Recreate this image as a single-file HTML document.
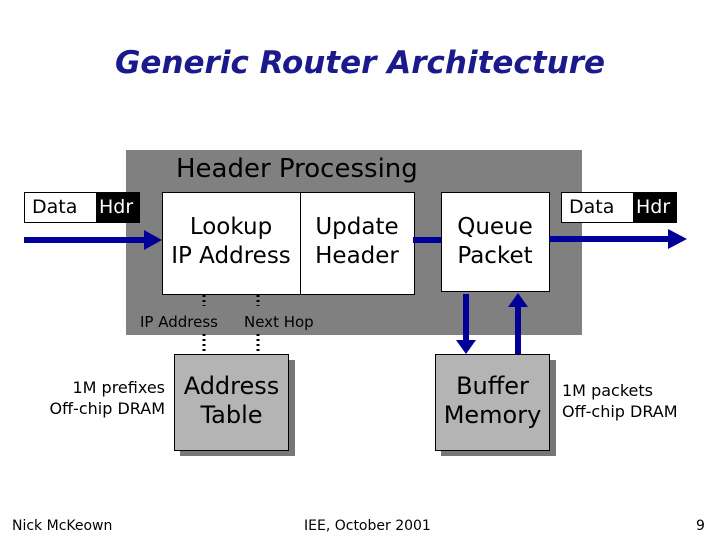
<!DOCTYPE html>
<html><head><style>
body{margin:0;width:720px;height:540px;background:#fff;overflow:hidden;position:relative;font-family:"Comic Sans MS","DejaVu Sans","Liberation Sans",sans-serif;}
.a{position:absolute;}
</style></head><body>
<div class="a" style="left:0;top:45px;width:720px;text-align:center;font-size:31px;color:#1a1a8c;font-style:italic;font-weight:bold;">Generic Router Architecture</div>
<div class="a" style="left:126px;top:150px;width:456px;height:185px;background:#808080;"></div>
<div class="a" style="left:176px;top:154px;font-size:26px;">Header Processing</div>
<div class="a" style="left:24px;top:192px;width:114px;height:29px;border:1px solid #000;background:#fff;"></div>
<div class="a" style="left:96px;top:192px;width:43px;height:31px;background:#000;"></div>
<div class="a" style="left:32px;top:196px;font-size:19px;">Data</div>
<div class="a" style="left:99px;top:196px;font-size:19px;color:#fff;">Hdr</div>
<div class="a" style="left:561px;top:192px;width:114px;height:29px;border:1px solid #000;background:#fff;"></div>
<div class="a" style="left:633px;top:192px;width:43px;height:31px;background:#000;"></div>
<div class="a" style="left:569px;top:196px;font-size:19px;">Data</div>
<div class="a" style="left:636px;top:196px;font-size:19px;color:#fff;">Hdr</div>
<div class="a" style="left:162px;top:192px;width:251px;height:101px;border:1px solid #000;background:#fff;"></div>
<div class="a" style="left:300px;top:192px;width:1px;height:102px;background:#000;"></div>
<div class="a" style="left:162px;top:213px;width:138px;text-align:center;font-size:23px;line-height:29px;">Lookup<br>IP Address</div>
<div class="a" style="left:301px;top:213px;width:112px;text-align:center;font-size:23px;line-height:29px;">Update<br>Header</div>
<div class="a" style="left:441px;top:192px;width:107px;height:98px;border:1px solid #000;background:#fff;"></div>
<div class="a" style="left:441px;top:213px;width:108px;text-align:center;font-size:23px;line-height:29px;">Queue<br>Packet</div>
<div class="a" style="left:140px;top:313px;font-size:15px;">IP Address</div>
<div class="a" style="left:244px;top:313px;font-size:15px;">Next Hop</div>
<div class="a" style="left:180px;top:360px;width:115px;height:96px;background:#777;"></div>
<div class="a" style="left:174px;top:354px;width:113px;height:95px;border:1px solid #000;background:#b4b4b4;"></div>
<div class="a" style="left:174px;top:372px;width:115px;text-align:center;font-size:24px;line-height:29px;">Address<br>Table</div>
<div class="a" style="left:441px;top:360px;width:115px;height:96px;background:#777;"></div>
<div class="a" style="left:435px;top:354px;width:113px;height:95px;border:1px solid #000;background:#b4b4b4;"></div>
<div class="a" style="left:435px;top:372px;width:115px;text-align:center;font-size:24px;line-height:29px;">Buffer<br>Memory</div>
<div class="a" style="left:10px;top:377px;width:155px;text-align:right;font-size:16px;line-height:21px;">1M prefixes<br>Off-chip DRAM</div>
<div class="a" style="left:562px;top:380px;font-size:16px;line-height:21px;">1M packets<br>Off-chip DRAM</div>
<svg class="a" style="left:0;top:0" width="720" height="540">
<g fill="#000099" stroke="#000099">
<line x1="24" y1="240" x2="148" y2="240" stroke-width="6"/>
<polygon points="144,230 162,240 144,250" stroke="none"/>
<line x1="413" y1="240" x2="441" y2="240" stroke-width="6"/>
<line x1="549" y1="239" x2="672" y2="239" stroke-width="6"/>
<polygon points="668,229 687,239 668,249" stroke="none"/>
<line x1="466" y1="294" x2="466" y2="342" stroke-width="6"/>
<polygon points="456,340 466,354 476,340" stroke="none"/>
<line x1="518" y1="305" x2="518" y2="354" stroke-width="6"/>
<polygon points="508,307 518,293 528,307" stroke="none"/>
</g>
<g stroke="#000" stroke-width="3" stroke-dasharray="2,3">
<line x1="204" y1="295" x2="204" y2="306"/>
<line x1="258" y1="295" x2="258" y2="306"/>
<line x1="204" y1="334" x2="204" y2="353"/>
<line x1="258" y1="334" x2="258" y2="353"/>
</g>
</svg>
<div class="a" style="left:12px;top:518px;font-size:14px;">Nick McKeown</div>
<div class="a" style="left:304px;top:518px;font-size:14px;">IEE, October 2001</div>
<div class="a" style="left:696px;top:518px;font-size:14px;">9</div>
</body></html>
